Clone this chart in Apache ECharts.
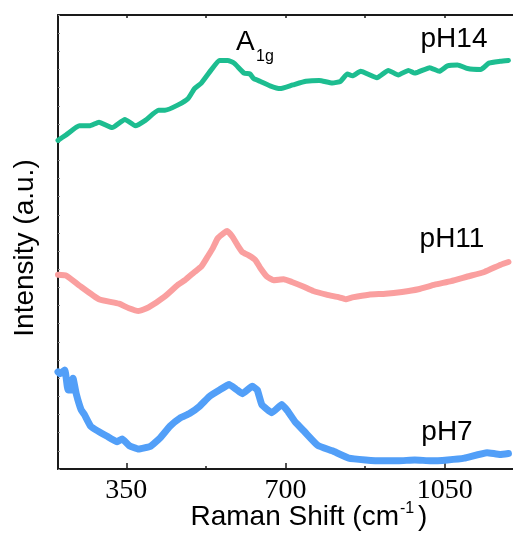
<!DOCTYPE html>
<html>
<head>
<meta charset="utf-8">
<script src="https://cdn.jsdelivr.net/npm/echarts@6/dist/echarts.min.js"></script>
<style>
html,body{margin:0;padding:0;background:#fff;}
#c{width:513px;height:538px;}
</style>
</head>
<body>
<div id="c"></div>
<script>
// Raman shift (cm-1) and intensity (a.u., stacked offsets)
var xPH14 = [200,218,247,269,290,319,347,370,392,421,435,464,486,500,515,536,555,573,587,609,622,630,644,666,688,716,745,774,803,821,836,847,865,901,926,948,970,984,1017,1038,1056,1078,1100,1129,1147,1172,1190];
var yPH14 = [362,368,378,378,382,376,385,378,384,395,395,401,408,419,425,439,450,450,447,436,435,430,427,422,419,423,427,428,425,427,435,433,438,431,439,434,439,436,442,438,444,445,441,440,447,449,450];

var xPH11 = [200,218,247,290,334,356,377,399,435,464,479,500,515,529,540,551,565,572,583,594,605,620,634,645,659,674,696,714,739,761,790,818,832,847,883,920,956,992,1028,1064,1100,1137,1173,1190];
var yPH11 = [214,213,202,187,182,177,174,178,190,203,208,217,223,234,243,254,260,262,256,247,239,235,230,221,212,208,209,206,201,196,192,189,187,189,192,193,195,198,203,207,212,217,225,228];

var xPH7 = [200,204,215,222,229,233,240,251,258,272,287,308,330,341,356,377,403,424,446,468,489,511,533,555,576,591,605,627,638,648,670,692,706,721,742,771,803,839,876,912,948,984,1020,1056,1093,1143,1172,1190];
var yPH7 = [107,105,109,87,87,100,83,65,60,47,42,36,30,33,26,22,25,34,47,56,61,69,80,87,93,88,83,91,87,71,62,71,63,52,41,26,20,12,10,9,9,10,9,10,12,18,16,17];

var xTickLabels = [350, 700, 1050];
var xMinorTicks = [525, 875];
var seriesNames = ['pH14', 'pH11', 'pH7'];

function pairs(xs, ys) { return xs.map(function (x, i) { return [x, ys[i]]; }); }

var chart = echarts.init(document.getElementById('c'), null, {renderer: 'canvas'});
var axisCol = '#1a1a1a';
var sans = 'Liberation Sans, Arial, sans-serif';
var serif = 'Liberation Serif, Times New Roman, serif';

var option = {
  backgroundColor: '#fff',
  animation: false,
  grid: {left: 58, top: 15, right: -6, bottom: 69, containLabel: false},
  xAxis: [
    {
      type: 'value', position: 'bottom', min: 200, max: 1200,
      axisLine: {show: true, onZero: false, lineStyle: {color: axisCol, width: 2}},
      axisTick: {show: true, inside: true, length: 6, customValues: xTickLabels, lineStyle: {color: axisCol, width: 1.5}},
      axisLabel: {show: true, customValues: xTickLabels, margin: 8, fontFamily: serif, fontSize: 28, color: '#000',
                  formatter: function (v) { return String(v); }},
      splitLine: {show: false}
    },
    {
      type: 'value', position: 'bottom', min: 200, max: 1200,
      axisLine: {show: false},
      axisTick: {show: true, inside: true, length: 3, customValues: xMinorTicks, lineStyle: {color: axisCol, width: 1.5}},
      axisLabel: {show: false},
      splitLine: {show: false}
    },
    {
      type: 'value', position: 'top', min: 200, max: 1200,
      axisLine: {show: true, onZero: false, lineStyle: {color: axisCol, width: 2}},
      axisTick: {show: true, inside: true, length: 3, customValues: xTickLabels.concat(xMinorTicks), lineStyle: {color: axisCol, width: 1.5}},
      axisLabel: {show: false},
      splitLine: {show: false}
    }
  ],
  yAxis: [{
    type: 'value', min: 0, max: 500, interval: 20,
    axisLine: {show: true, onZero: false, lineStyle: {color: axisCol, width: 2}},
    axisTick: {show: true, inside: true, length: 2, lineStyle: {color: '#8a8a8a', width: 1}},
    axisLabel: {show: false},
    splitLine: {show: false}
  }],
  series: [
    {name: seriesNames[0], type: 'line', data: pairs(xPH14, yPH14), showSymbol: false, smooth: 0.15,
     lineStyle: {color: '#1dbd90', width: 5, cap: 'round', join: 'round'}, z: 3},
    {name: seriesNames[1], type: 'line', data: pairs(xPH11, yPH11), showSymbol: false, smooth: 0.15,
     lineStyle: {color: '#fa9f9f', width: 6, cap: 'round', join: 'round'}, z: 3},
    {name: seriesNames[2], type: 'line', data: pairs(xPH7, yPH7), showSymbol: false, smooth: 0.12,
     lineStyle: {color: '#529ff8', width: 7, cap: 'round', join: 'round'}, z: 3}
  ],
  graphic: [
    {type: 'text', x: 454, y: 39, style: {text: seriesNames[0], fontFamily: sans, fontSize: 28, fill: '#000', align: 'center', verticalAlign: 'middle'}},
    {type: 'text', x: 452, y: 239, style: {text: seriesNames[1], fontFamily: sans, fontSize: 28, fill: '#000', align: 'center', verticalAlign: 'middle'}},
    {type: 'text', x: 447, y: 432, style: {text: seriesNames[2], fontFamily: sans, fontSize: 28, fill: '#000', align: 'center', verticalAlign: 'middle'}},
    {type: 'text', x: 236, y: 42, style: {text: 'A', fontFamily: sans, fontSize: 28, fill: '#000', align: 'left', verticalAlign: 'middle'}},
    {type: 'text', x: 256, y: 57, style: {text: '1g', fontFamily: sans, fontSize: 16, fill: '#000', align: 'left', verticalAlign: 'middle'}},
    {type: 'text', x: 399, y: 517, style: {text: 'Raman Shift (cm', fontFamily: sans, fontSize: 28, fill: '#000', align: 'right', verticalAlign: 'middle'}},
    {type: 'text', x: 400, y: 509, style: {text: '-1', fontFamily: sans, fontSize: 16, fill: '#000', align: 'left', verticalAlign: 'middle'}},
    {type: 'text', x: 418, y: 517, style: {text: ')', fontFamily: sans, fontSize: 28, fill: '#000', align: 'left', verticalAlign: 'middle'}},
    {type: 'text', x: 25, y: 248, rotation: Math.PI / 2, style: {text: 'Intensity (a.u.)', fontFamily: sans, fontSize: 28, fill: '#000', align: 'center', verticalAlign: 'middle'}}
  ]
};
chart.setOption(option);
</script>
</body>
</html>
